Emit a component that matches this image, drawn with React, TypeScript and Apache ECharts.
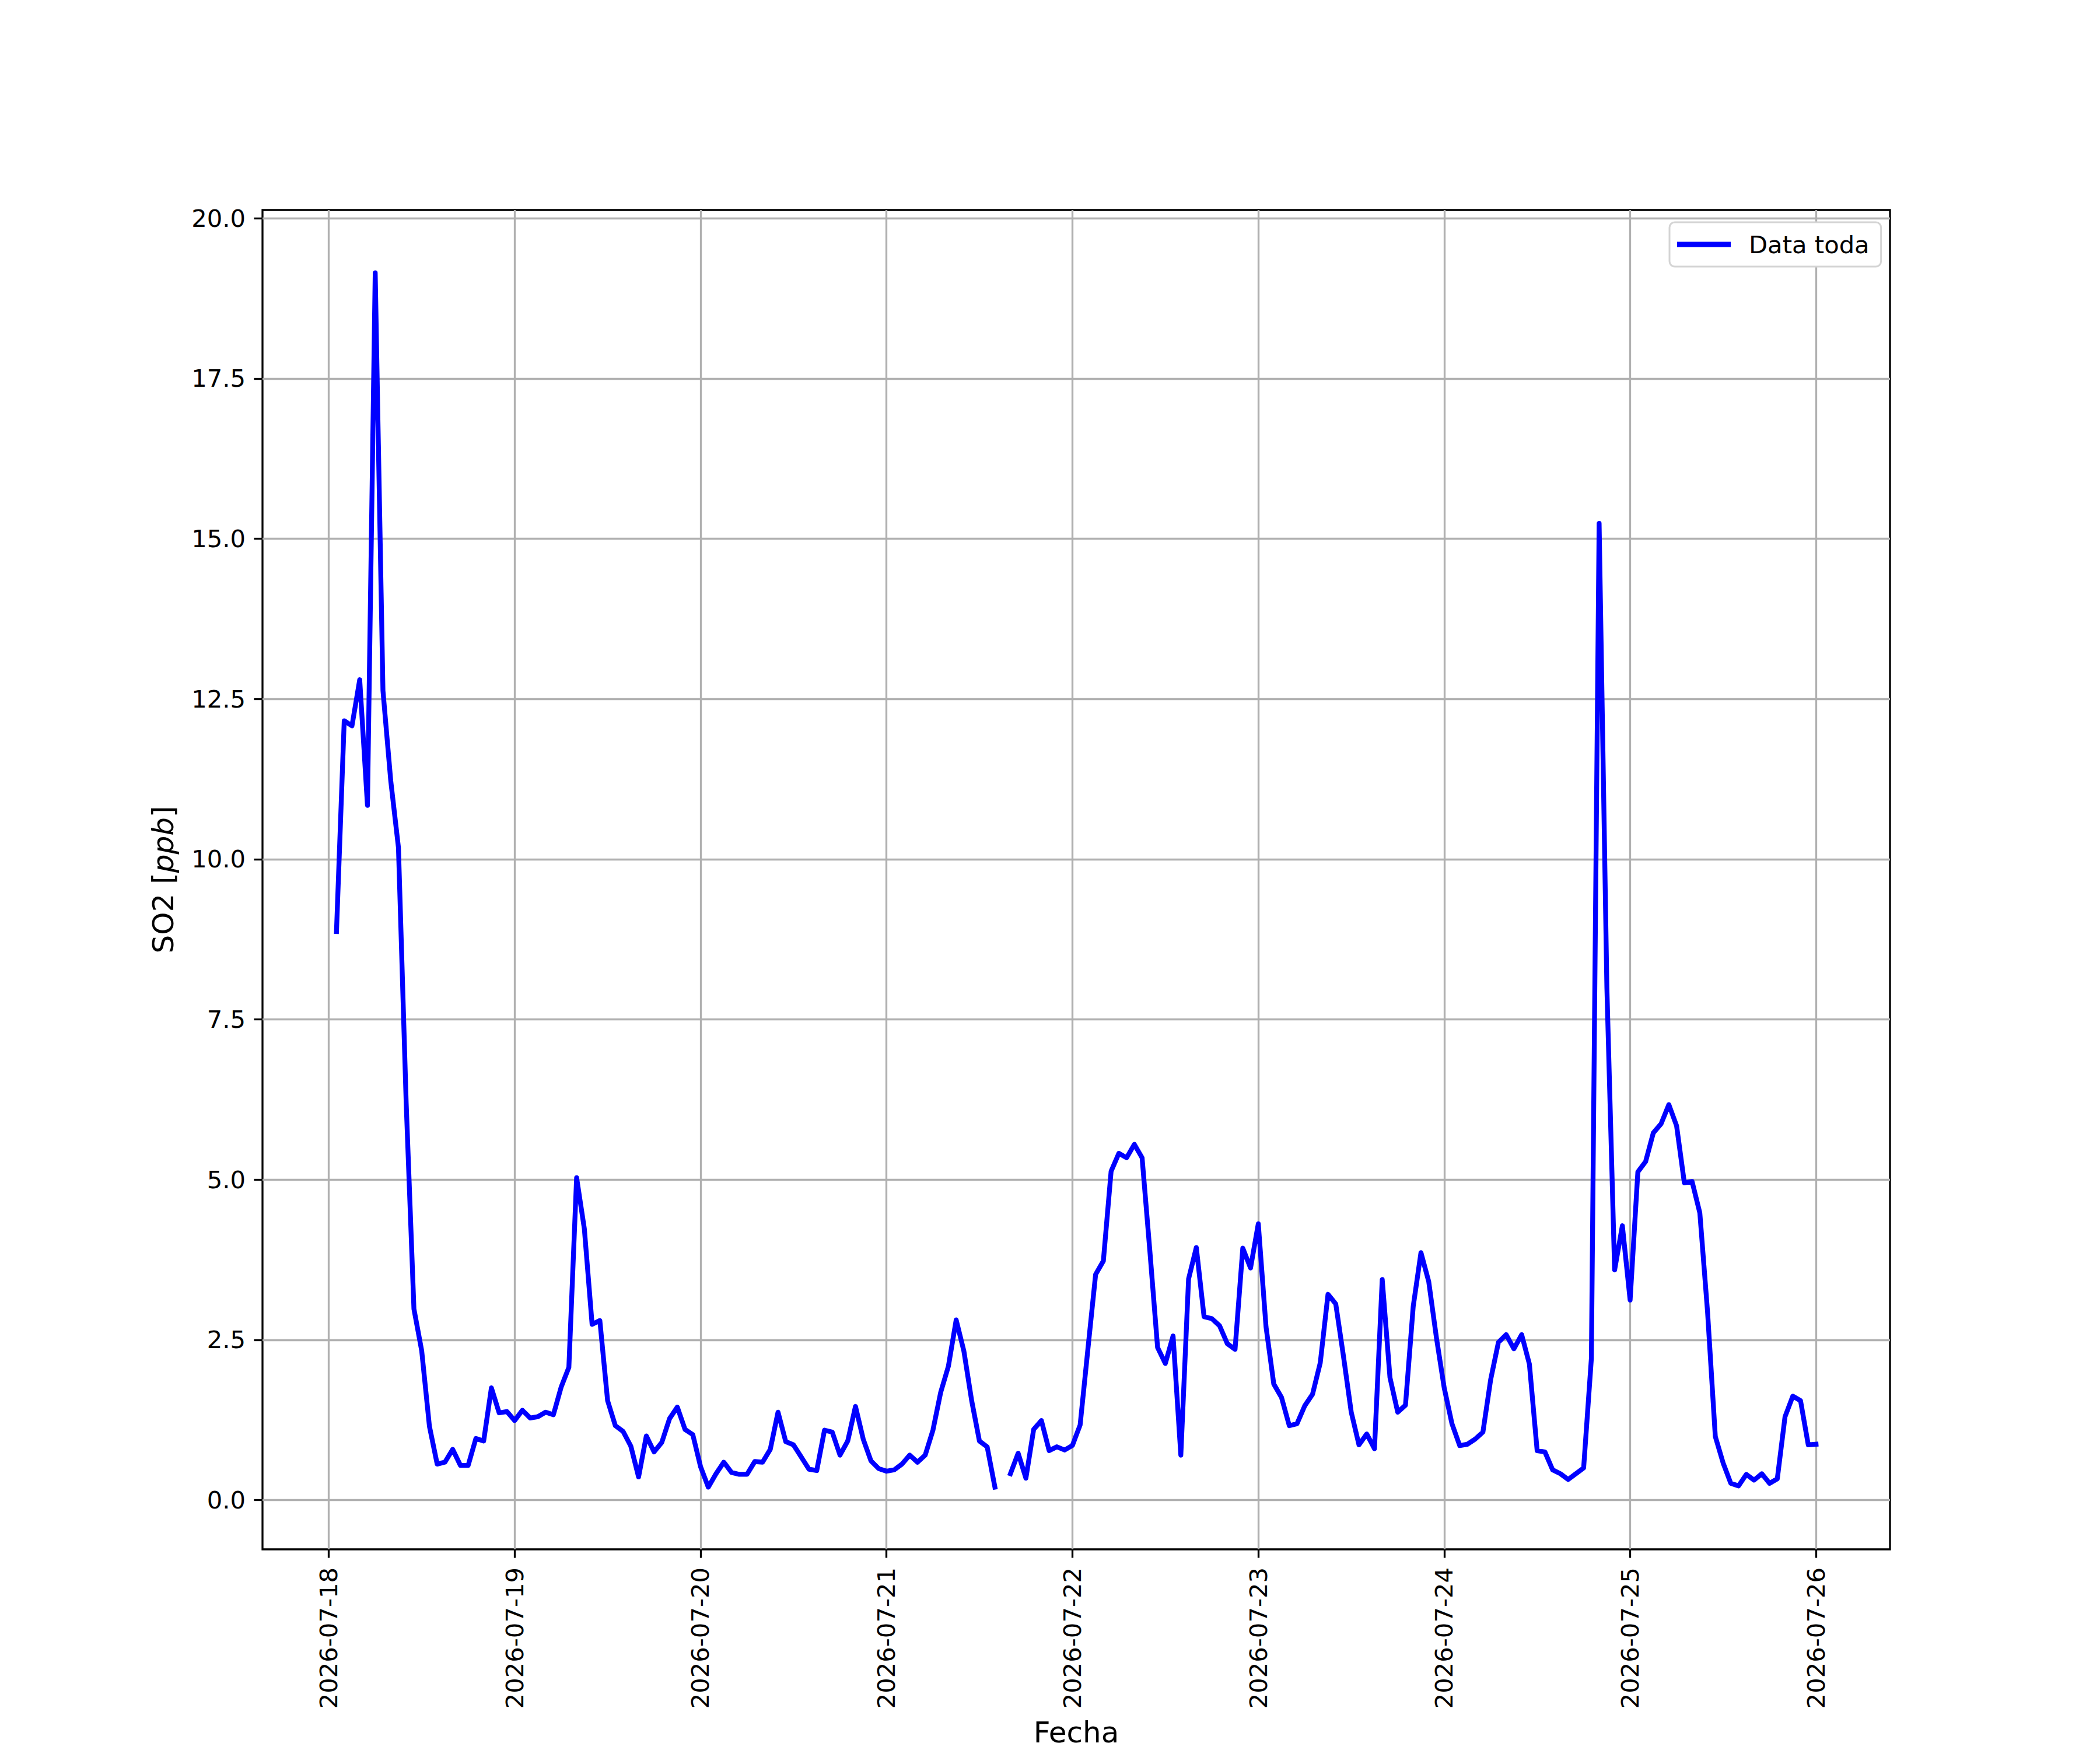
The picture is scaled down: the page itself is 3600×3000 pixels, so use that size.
import React, { useEffect, useRef } from "react";
import * as echarts from "echarts";

// First observation: 2026-07-18 01:00 (UTC), hourly data
const START_UTC = Date.UTC(2026, 6, 18, 1, 0, 0);
const HOUR = 3600 * 1000;

const seriesName = "Data toda";

// SO2 [ppb], hourly from 2026-07-18 01:00 to 2026-07-26 00:00 (null = missing)
const so2Values: (number | null)[] = [
  8.87, 12.16, 12.08, 12.8, 10.84, 19.15, 12.63, 11.23, 10.18, 6.19,
  2.98, 2.33, 1.15, 0.56, 0.59, 0.79, 0.54, 0.54, 0.96, 0.92,
  1.75, 1.36, 1.38, 1.24, 1.4, 1.28, 1.3, 1.37, 1.33, 1.76,
  2.07, 5.03, 4.23, 2.74, 2.8, 1.55, 1.16, 1.07, 0.84, 0.36,
  1.0, 0.75, 0.9, 1.27, 1.45, 1.1, 1.02, 0.52, 0.2, 0.41,
  0.59, 0.43, 0.4, 0.4, 0.6, 0.59, 0.79, 1.37, 0.91, 0.86,
  0.67, 0.48, 0.46, 1.09, 1.06, 0.7, 0.92, 1.46, 0.95, 0.61,
  0.49, 0.45, 0.47, 0.56, 0.7, 0.59, 0.7, 1.09, 1.68, 2.09,
  2.81, 2.32, 1.55, 0.92, 0.83, 0.2, null, 0.41, 0.73, 0.34,
  1.1, 1.24, 0.77, 0.83, 0.78, 0.85, 1.17, 2.35, 3.52, 3.73,
  5.13, 5.41, 5.34, 5.55, 5.34, 3.89, 2.38, 2.13, 2.56, 0.7,
  3.45, 3.94, 2.86, 2.83, 2.72, 2.44, 2.35, 3.93, 3.62, 4.31,
  2.7, 1.81, 1.6, 1.16, 1.19, 1.47, 1.65, 2.14, 3.21, 3.06,
  2.24, 1.37, 0.86, 1.03, 0.8, 3.44, 1.91, 1.37, 1.48, 3.02,
  3.86, 3.41, 2.53, 1.75, 1.19, 0.85, 0.87, 0.95, 1.06, 1.88,
  2.46, 2.58, 2.36, 2.58, 2.12, 0.77, 0.75, 0.47, 0.41, 0.32,
  0.41, 0.5, 2.21, 15.24, 8.0, 3.59, 4.28, 3.12, 5.12, 5.28,
  5.73, 5.87, 6.17, 5.84, 4.95, 4.97, 4.48, 2.93, 0.99, 0.58,
  0.26, 0.22, 0.4, 0.31, 0.41, 0.26, 0.33, 1.3, 1.62, 1.55,
  0.86, 0.87,
];

// x tick labels (midnight of each day)
const xTickDays = [
  "2026-07-18", "2026-07-19", "2026-07-20", "2026-07-21", "2026-07-22",
  "2026-07-23", "2026-07-24", "2026-07-25", "2026-07-26",
];

// y tick values
const yTicks = [0, 2.5, 5, 7.5, 10, 12.5, 15, 17.5, 20];

const FONT = "DejaVu Sans";
const FS = 41.7;
const FS_LABEL = 50;
const LW = 3.3;

export default function App() {
  const ref = useRef<HTMLDivElement>(null);

  useEffect(() => {
    document.body.style.margin = "0";
    if (!ref.current) return;
    const chart = echarts.init(ref.current, undefined, { renderer: "svg" });

    const data = so2Values.map((v, i) => [START_UTC + i * HOUR, v === null ? null : v]);
    const firstT = START_UTC;
    const lastT = START_UTC + (so2Values.length - 1) * HOUR;
    const margin = (lastT - firstT) * 0.05;
    const dayValues = xTickDays.map((d) => {
      const [y, m, dd] = d.split("-").map(Number);
      return Date.UTC(y, m - 1, dd);
    });

    chart.setOption({
      animation: false,
      backgroundColor: "#ffffff",
      grid: {
        left: 450,
        top: 360,
        width: 2790,
        height: 2310,
        show: true,
        borderColor: "#000000",
        borderWidth: LW,
        backgroundColor: "transparent",
        containLabel: false,
      },
      legend: {
        data: [seriesName],
        left: 2862,
        top: 381,
        padding: [17, 20, 17, 13],
        icon: "rect",
        itemWidth: 92,
        itemHeight: 9,
        backgroundColor: "#ffffff",
        borderColor: "#d4d4d4",
        borderWidth: 3,
        borderRadius: 9,
        textStyle: {
          fontFamily: FONT,
          fontSize: FS,
          color: "#000000",
          padding: [0, 0, 0, 26],
          lineHeight: 42,
        },
      },
      xAxis: {
        type: "value",
        min: firstT - margin,
        max: lastT + margin,
        name: "Fecha",
        nameLocation: "middle",
        nameGap: 289,
        nameTextStyle: { fontFamily: FONT, fontSize: FS_LABEL, color: "#000000" },
        axisLine: { show: false, onZero: false },
        axisTick: {
          show: true,
          length: 14.6,
          inside: false,
          customValues: dayValues,
          lineStyle: { color: "#000000", width: LW },
        },
        axisLabel: {
          show: true,
          customValues: dayValues,
          rotate: 90,
          margin: 31,
          fontFamily: FONT,
          fontSize: FS,
          color: "#000000",
          formatter: (val: number) => new Date(val).toISOString().slice(0, 10),
        },
        splitLine: { show: true, lineStyle: { color: "#b0b0b0", width: LW } },
      },
      yAxis: {
        type: "value",
        min: -0.77,
        max: 20.13,
        name: "SO2 [{i|ppb}]",
        nameLocation: "middle",
        nameRotate: 90,
        nameGap: 145,
        nameTextStyle: {
          fontFamily: FONT,
          fontSize: FS_LABEL,
          color: "#000000",
          rich: {
            i: { fontFamily: FONT, fontSize: FS_LABEL, fontStyle: "italic", color: "#000000" },
          },
        },
        axisLine: { show: false, onZero: false },
        axisTick: {
          show: true,
          length: 14.6,
          inside: false,
          customValues: yTicks,
          lineStyle: { color: "#000000", width: LW },
        },
        axisLabel: {
          show: true,
          customValues: yTicks,
          margin: 29,
          fontFamily: FONT,
          fontSize: FS,
          color: "#000000",
          formatter: (val: number) => val.toFixed(1),
        },
        splitLine: { show: true, lineStyle: { color: "#b0b0b0", width: LW } },
      },
      series: [
        {
          name: seriesName,
          type: "line",
          data,
          connectNulls: false,
          showSymbol: false,
          symbol: "none",
          color: "#0000ff",
          lineStyle: { color: "#0000ff", width: 8.3, cap: "square", join: "round" },
          z: 3,
        },
      ],
    });

    return () => chart.dispose();
  }, []);

  return (
    <div
      ref={ref}
      style={{ position: "absolute", left: 0, top: 0, width: "3600px", height: "3000px" }}
    />
  );
}
